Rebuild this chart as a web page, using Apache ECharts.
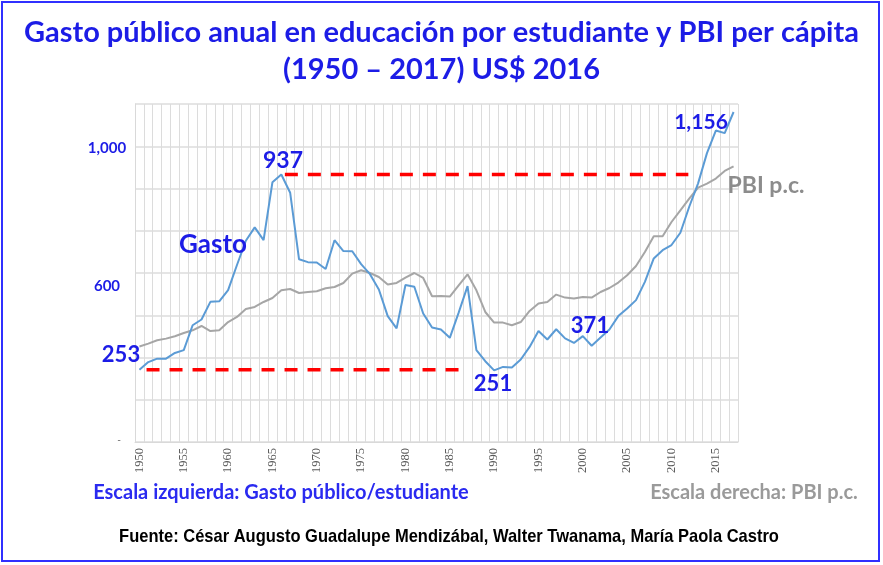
<!DOCTYPE html>
<html>
<head>
<meta charset="utf-8">
<script src="https://cdn.jsdelivr.net/npm/echarts@6/dist/echarts.min.js"></script>
<style>
html,body{margin:0;padding:0;background:#fff;}
#c{width:883px;height:565px;}
</style>
</head>
<body>
<div id="c"></div>
<script>
// ---- data ----
const years = [];
for (let y = 1950; y <= 2017; y++) years.push(String(y));

// Gasto público por estudiante (left scale, US$ 2016)
const gasto = [253,280,292,292,312,322,409,429,491,493,
               532,620,705,752,707,910,937,873,640,630,
               629,606,707,669,668,623,588,534,441,398,
               550,544,450,401,394,365,453,546,322,283,
               251,263,261,289,333,389,359,395,363,347,
               371,337,366,394,441,468,497,561,643,672,
               690,733,824,906,1012,1091,1082,1156];

// PBI per cápita (right scale, US$ 2016)
const pbi = [2260,2329,2407,2447,2502,2580,2644,2746,2627,2644,
             2840,2959,3148,3196,3314,3408,3591,3621,3527,3550,
             3567,3638,3669,3764,3986,4064,4000,3906,3726,3764,
             3891,4000,3882,3449,3456,3441,3709,3970,3591,3077,
             2826,2826,2762,2840,3101,3276,3314,3489,3418,3394,
             3432,3418,3550,3645,3773,3946,4166,4497,4869,4869,
             5207,5484,5761,6022,6116,6235,6415,6526];

// reference levels (dashed red lines): [startYear, endYear, value]
const refHigh = [1966.4, 2011.9, 937];
const refLow  = [1950.8, 1986.4, 253];

const leftTicks = ['1,000', '600', '-'];

const BLUE = '#1c1ce6';
const chart = echarts.init(document.getElementById('c'));

function txt(x, y, text, font, fill, sx) {
  return {type:'text', x:x, y:y, z:100, scaleX: sx || 1,
    style:{text:text, font:font, fill:fill, align:'center', verticalAlign:'middle'}};
}

chart.setOption({
  animation:false,
  backgroundColor:'#ffffff',
  title:[
    {text:'Gasto público anual en educación por estudiante y PBI per cápita', left:'center', top:13,
     textStyle:{fontFamily:'Lato', fontWeight:'bold', fontSize:29, color:BLUE}},
    {text:'(1950 – 2017) US$ 2016', left:'center', top:50,
     textStyle:{fontFamily:'Lato', fontWeight:'bold', fontSize:29, color:BLUE}}
  ],
  grid:{left:135, right:145, top:104, bottom:123, containLabel:false},
  xAxis:[
    {type:'category', data:years, boundaryGap:true,
     axisLine:{lineStyle:{color:'#d9d9d9'}}, axisTick:{show:false},
     axisLabel:{interval:4, rotate:90, fontFamily:'Liberation Serif', fontSize:12.5, color:'#595959', margin:6},
     splitLine:{show:true, interval:0, lineStyle:{color:'#dcdcdc', width:1}}},
    {type:'value', min:1949.5, max:2017.5, show:false}
  ],
  yAxis:[
    {type:'value', min:0, max:1184, interval:148,
     axisLabel:{show:false}, axisTick:{show:false},
     axisLine:{show:true, lineStyle:{color:'#d9d9d9'}},
     splitLine:{lineStyle:{color:'#dcdcdc', width:1.5}}},
    {type:'value', min:0, max:8000, interval:1000, show:false, splitLine:{show:false}}
  ],
  series:[
    {name:'PBI p.c.', type:'line', xAxisIndex:0, yAxisIndex:1, data:pbi, symbol:'none',
     lineStyle:{color:'#a6a6a6', width:2}},
    {name:'Gasto', type:'line', xAxisIndex:0, yAxisIndex:0, data:gasto, symbol:'none',
     lineStyle:{color:'#5b9bd5', width:2}},
    {type:'line', xAxisIndex:1, yAxisIndex:0, symbol:'none',
     data:[[refHigh[0], refHigh[2]], [refHigh[1], refHigh[2]]],
     lineStyle:{color:'#ff0000', width:3.5, type:[13,10]}},
    {type:'line', xAxisIndex:1, yAxisIndex:0, symbol:'none',
     data:[[refLow[0], refLow[2]], [refLow[1], refLow[2]]],
     lineStyle:{color:'#ff0000', width:3.5, type:[13,10]}}
  ],
  graphic:[
    {type:'rect', shape:{x:2, y:2, width:877, height:559}, z:0,
     style:{fill:'none', stroke:'#3030ff', lineWidth:2}},
    txt(107, 148, leftTicks[0], 'bold 15px Lato', BLUE),
    txt(107, 286, leftTicks[1], 'bold 15px Lato', BLUE),
    txt(119, 440, leftTicks[2], '10px Lato', '#595959'),
    txt(283, 161, '937', 'bold 23px Lato', BLUE),
    txt(121, 355, '253', 'bold 22px Lato', BLUE),
    txt(493, 384, '251', 'bold 22px Lato', BLUE),
    txt(590, 326, '371', 'bold 22px Lato', BLUE),
    txt(701, 122, '1,156', 'bold 21px Lato', BLUE),
    txt(213, 245, 'Gasto', 'bold 26px Lato', BLUE),
    txt(766, 186, 'PBI p.c.', 'bold 23px Lato', '#8c8c8c'),
    txt(281, 493, 'Escala izquierda: Gasto público/estudiante', 'bold 20px Lato', '#2a2af0'),
    txt(754, 493, 'Escala derecha: PBI p.c.', 'bold 20px Lato', '#9a9a9a'),
    txt(449, 537, 'Fuente: César Augusto Guadalupe Mendizábal, Walter Twanama, María Paola Castro',
        'bold 19px "Liberation Sans", Arial', '#000000', 0.868)
  ]
});
</script>
</body>
</html>
